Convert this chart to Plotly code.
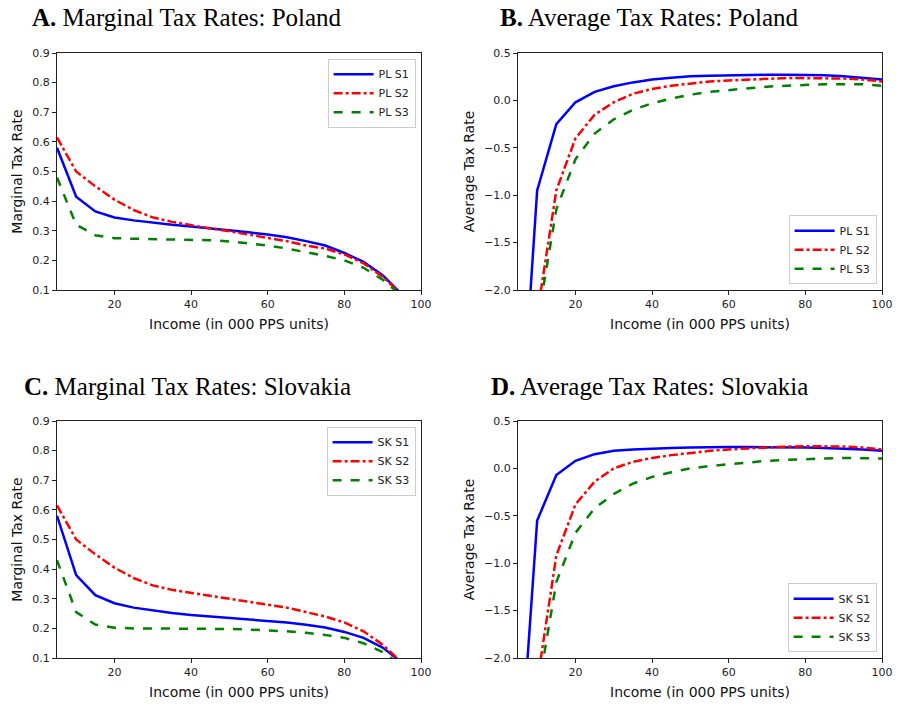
import plotly.graph_objects as go

income = [5,10,15,20,25,30,35,40,45,50,55,60,65,70,75,80,85,90,95,100]

pl_mtr_s1 = [0.58,0.415,0.365,0.345,0.335,0.327,0.320,0.314,0.308,0.301,0.295,0.287,0.278,0.265,0.25,0.225,0.195,0.15,0.085,0.0]
pl_mtr_s2 = [0.615,0.50,0.45,0.405,0.37,0.345,0.33,0.318,0.308,0.298,0.287,0.277,0.265,0.25,0.24,0.22,0.19,0.145,0.085,0.0]
pl_mtr_s3 = [0.48,0.32,0.285,0.275,0.273,0.272,0.271,0.270,0.268,0.264,0.258,0.25,0.24,0.228,0.215,0.2,0.175,0.135,0.08,0.0]

pl_atr_s1 = [-4.0,-0.95,-0.25,-0.02,0.09,0.15,0.19,0.22,0.24,0.255,0.26,0.265,0.27,0.27,0.27,0.27,0.265,0.255,0.24,0.22]
pl_atr_s2 = [-6.0,-2.26,-0.95,-0.4,-0.15,-0.02,0.07,0.12,0.155,0.18,0.2,0.21,0.22,0.23,0.235,0.235,0.235,0.23,0.22,0.2]
pl_atr_s3 = [-6.5,-2.36,-1.15,-0.62,-0.35,-0.2,-0.1,-0.03,0.02,0.06,0.09,0.11,0.13,0.145,0.155,0.165,0.17,0.17,0.17,0.155]

sk_mtr_s1 = [0.58,0.38,0.312,0.285,0.27,0.26,0.252,0.245,0.24,0.235,0.23,0.225,0.22,0.212,0.203,0.188,0.168,0.135,0.085,0.0]
sk_mtr_s2 = [0.615,0.50,0.45,0.405,0.37,0.345,0.33,0.32,0.31,0.3,0.29,0.28,0.27,0.255,0.24,0.22,0.19,0.145,0.085,0.0]
sk_mtr_s3 = [0.43,0.255,0.213,0.202,0.2,0.2,0.2,0.2,0.2,0.198,0.196,0.194,0.19,0.185,0.178,0.168,0.15,0.12,0.075,0.0]

sk_atr_s1 = [-3.45,-0.55,-0.07,0.08,0.15,0.185,0.2,0.21,0.215,0.22,0.225,0.225,0.225,0.225,0.22,0.22,0.215,0.21,0.2,0.185]
sk_atr_s2 = [-6.0,-2.26,-0.92,-0.38,-0.14,0.0,0.07,0.11,0.14,0.165,0.185,0.2,0.21,0.225,0.23,0.235,0.235,0.23,0.22,0.2]
sk_atr_s3 = [-6.5,-2.4,-1.2,-0.68,-0.42,-0.27,-0.16,-0.09,-0.04,0.0,0.025,0.045,0.065,0.08,0.09,0.1,0.105,0.11,0.11,0.105]

W, H = 898, 707
panels = [
    ((pl_mtr_s1, pl_mtr_s2, pl_mtr_s3), "PL", (57, 421), (53, 290), "Marginal Tax Rate", [0.1, 0.9],
     [0.1,0.2,0.3,0.4,0.5,0.6,0.7,0.8,0.9], "top", "<b>A.</b> Marginal Tax Rates: Poland", 30, 17),
    ((pl_atr_s1, pl_atr_s2, pl_atr_s3), "PL", (518, 882), (53, 290), "Average Tax Rate", [-2.0, 0.5],
     [-2.0,-1.5,-1.0,-0.5,0.0,0.5], "bottom", "<b>B.</b> Average Tax Rates: Poland", 498, 17),
    ((sk_mtr_s1, sk_mtr_s2, sk_mtr_s3), "SK", (57, 421), (421, 658), "Marginal Tax Rate", [0.1, 0.9],
     [0.1,0.2,0.3,0.4,0.5,0.6,0.7,0.8,0.9], "top", "<b>C.</b> Marginal Tax Rates: Slovakia", 22, 386),
    ((sk_atr_s1, sk_atr_s2, sk_atr_s3), "SK", (518, 882), (421, 658), "Average Tax Rate", [-2.0, 0.5],
     [-2.0,-1.5,-1.0,-0.5,0.0,0.5], "bottom", "<b>D.</b> Average Tax Rates: Slovakia", 489, 386),
]

colors = ["#0000ff", "#ff0000", "#008000"]
dashes = ["solid", "dashdot", "dash"]

fig = go.Figure()
tickfont = dict(family="DejaVu Sans", size=11, color="#222")
for i, (series, cc, xp, yp, ylab, yr, ticks, lpos, title, tx, ty) in enumerate(panels):
    n = "" if i == 0 else str(i + 1)
    leg = "legend" if i == 0 else "legend" + str(i + 1)
    for j, s in enumerate(series):
        fig.add_trace(go.Scatter(x=income, y=s, mode="lines", name=f"{cc} S{j+1}",
                                 line=dict(color=colors[j], width=2.5, dash=dashes[j]),
                                 xaxis="x" + n, yaxis="y" + n, legend=leg))
    xd = [xp[0] / W, xp[1] / W]
    yd = [1 - yp[1] / H, 1 - yp[0] / H]
    common = dict(showline=True, mirror=True, linecolor="#222", linewidth=1, ticks="outside",
                  ticklen=4, tickcolor="#222", showgrid=False, zeroline=False, tickfont=tickfont,
                  automargin=False)
    fig.layout["xaxis" + n] = dict(domain=xd, range=[5, 100], tickvals=[20, 40, 60, 80, 100],
                                   anchor="y" + n,
                                   title=dict(text="Income (in 000 PPS units)", font=dict(family="DejaVu Sans", size=14, color="#111"), standoff=8),
                                   **common)
    ticktext = [("−" if t < 0 else "") + f"{abs(t):.1f}" for t in ticks]
    fig.layout["yaxis" + n] = dict(domain=yd, range=yr, tickvals=ticks, ticktext=ticktext, anchor="x" + n,
                                   title=dict(text=ylab, font=dict(family="DejaVu Sans", size=14, color="#111"), standoff=6),
                                   **common)
    if lpos == "top":
        ldict = dict(x=xd[1] - 0.006, y=yd[1] - 0.008, xanchor="right", yanchor="top")
    else:
        ldict = dict(x=xd[1] - 0.006, y=yd[0] + 0.008, xanchor="right", yanchor="bottom")
    fig.layout[leg] = dict(**ldict, bgcolor="white", bordercolor="#ccc", borderwidth=1,
                           font=dict(family="DejaVu Sans", size=11, color="#222"),
                           tracegroupgap=0, itemwidth=40)
    fig.add_annotation(text=title, xref="paper", yref="paper",
                       x=tx / W, y=1 - ty / H, xanchor="left", yanchor="middle",
                       showarrow=False, font=dict(family="Liberation Serif", size=25, color="black"))

fig.update_layout(width=W, height=H, margin=dict(l=0, r=0, t=0, b=0),
                  paper_bgcolor="white", plot_bgcolor="white", showlegend=True)
fig.write_html("out.html", config={"displayModeBar": False})

with open("out.html", "r", encoding="utf-8") as f:
    html = f.read()
html = html.replace("<head>", "<head><style>html,body{margin:0;padding:0;overflow:hidden}</style>", 1)
with open("out.html", "w", encoding="utf-8") as f:
    f.write(html)
